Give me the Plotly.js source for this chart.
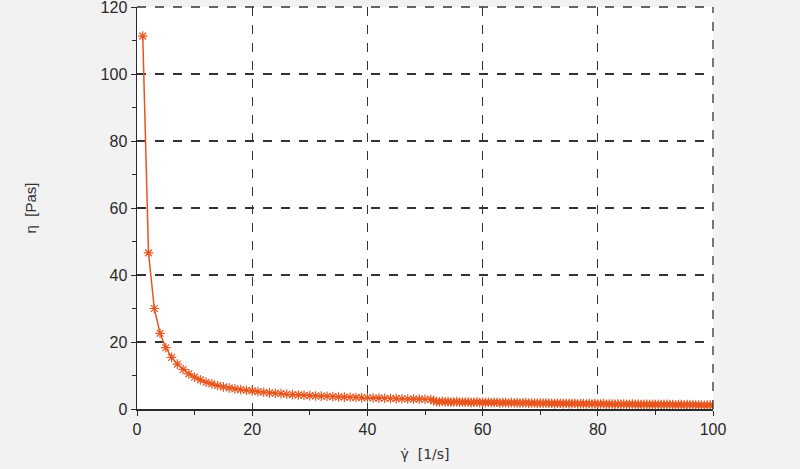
<!DOCTYPE html>
<html>
<head>
<meta charset="utf-8">
<script src="https://cdn.plot.ly/plotly-3.0.1.min.js"></script>
<style>html,body{margin:0;padding:0;background:#f2f2f2;}#chart{width:800px;height:469px;}</style>
</head>
<body>
<div id="chart"></div>
<script>
// Shear rate [1/s] and viscosity [Pas]
const shearRate = [
  1,2,3,4,5,6,7,8,9,10,11,12,13,14,15,16,17,18,19,20,
  21,22,23,24,25,26,27,28,29,30,31,32,33,34,35,36,37,38,39,40,
  41,42,43,44,45,46,47,48,49,50,51,
  51.5,52,52.5,53,53.5,54,54.5,55,55.5,56,56.5,57,57.5,58,58.5,59,59.5,60,
  60.5,61,61.5,62,62.5,63,63.5,64,64.5,65,65.5,66,66.5,67,67.5,68,68.5,69,69.5,70,
  70.5,71,71.5,72,72.5,73,73.5,74,74.5,75,75.5,76,76.5,77,77.5,78,78.5,79,79.5,80,
  80.5,81,81.5,82,82.5,83,83.5,84,84.5,85,85.5,86,86.5,87,87.5,88,88.5,89,89.5,90,
  90.5,91,91.5,92,92.5,93,93.5,94,94.5,95,95.5,96,96.5,97,97.5,98,98.5,99,99.5,100
];
const viscosity = [
  111.3,46.6,30.0,22.6,18.3,15.4,13.4,11.8,10.5,9.5,8.7,8.0,7.5,7.0,6.6,6.3,6.0,5.8,5.6,5.4,
  5.2,5.0,4.8,4.7,4.6,4.4,4.3,4.2,4.1,4.0,3.9,3.85,3.8,3.7,3.6,3.55,3.5,3.45,3.4,3.35,
  3.3,3.25,3.2,3.15,3.1,3.05,3.0,2.95,2.95,2.9,2.85,
  2.5,2.2,2.1,2.3,2.1,2.2,2.0,2.1,2.2,2.0,2.1,2.0,2.1,1.9,2.0,2.1,1.9,2.0,
  1.9,2.0,1.9,1.9,2.0,1.8,1.9,1.9,1.8,1.9,1.8,1.9,1.8,1.8,1.9,1.7,1.8,1.8,1.7,1.8,
  1.7,1.8,1.7,1.7,1.6,1.7,1.7,1.6,1.7,1.6,1.6,1.7,1.5,1.6,1.6,1.5,1.6,1.5,1.6,1.5,
  1.5,1.6,1.4,1.5,1.5,1.4,1.5,1.4,1.5,1.4,1.4,1.5,1.4,1.4,1.3,1.4,1.4,1.3,1.4,1.3,
  1.4,1.3,1.3,1.4,1.3,1.3,1.2,1.3,1.3,1.2,1.3,1.2,1.3,1.2,1.2,1.2,1.1,1.2,1.2,1.1
];
const xTitle = 'γ̇  [1/s]';
const yTitle = 'η  [Pas]';

const orange = '#e8561f';
const grid = '#333333';
const trace = {
  x: shearRate, y: viscosity, type: 'scatter', mode: 'lines+markers',
  line: {color: orange, width: 1.5},
  marker: {symbol: 'asterisk-open', size: 8, color: orange, line: {color: orange, width: 1.2}},
  showlegend: false, hoverinfo: 'x+y'
};
const fam = 'Arial, "Liberation Sans", sans-serif';
const tickFont = {family: fam, size: 16, color: '#2a2a2a'};
const axisCommon = {
  showline: true, linecolor: '#2a2a2a', linewidth: 1.5,
  showgrid: true, gridcolor: grid, gridwidth: 1.3, griddash: 'dash',
  zeroline: false, ticks: 'outside', ticklen: 5, tickcolor: '#2a2a2a', tickwidth: 1,
  tickfont: tickFont, fixedrange: true, ticklabeloverflow: 'allow',
  minor: {ticks: 'outside', ticklen: 4, tickcolor: '#2a2a2a', showgrid: false}
};
const layout = {
  width: 800, height: 469,
  margin: {l: 137, r: 87, t: 7, b: 60},
  paper_bgcolor: '#f2f2f2', plot_bgcolor: '#ffffff',
  xaxis: Object.assign({}, axisCommon, {
    range: [0, 100], dtick: 20, tick0: 0,
    minor: Object.assign({}, axisCommon.minor, {dtick: 10}),
    title: {text: xTitle, font: {family: '"DejaVu Sans", sans-serif', size: 14, color: '#333'}, standoff: 12}
  }),
  yaxis: Object.assign({}, axisCommon, {
    range: [0, 120], dtick: 20, tick0: 0,
    minor: Object.assign({}, axisCommon.minor, {dtick: 10}),
    title: {text: yTitle, font: {family: fam, size: 15, color: '#333'}, standoff: 60}
  }),
  shapes: [
    {type: 'line', xref: 'paper', yref: 'paper', x0: 0, x1: 1, y0: 1, y1: 1, line: {color: grid, width: 1.3, dash: 'dash'}},
    {type: 'line', xref: 'paper', yref: 'paper', x0: 1, x1: 1, y0: 0, y1: 1, line: {color: grid, width: 1.3, dash: 'dash'}}
  ]
};
Plotly.newPlot('chart', [trace], layout, {displayModeBar: false, staticPlot: true});
</script>
</body>
</html>
